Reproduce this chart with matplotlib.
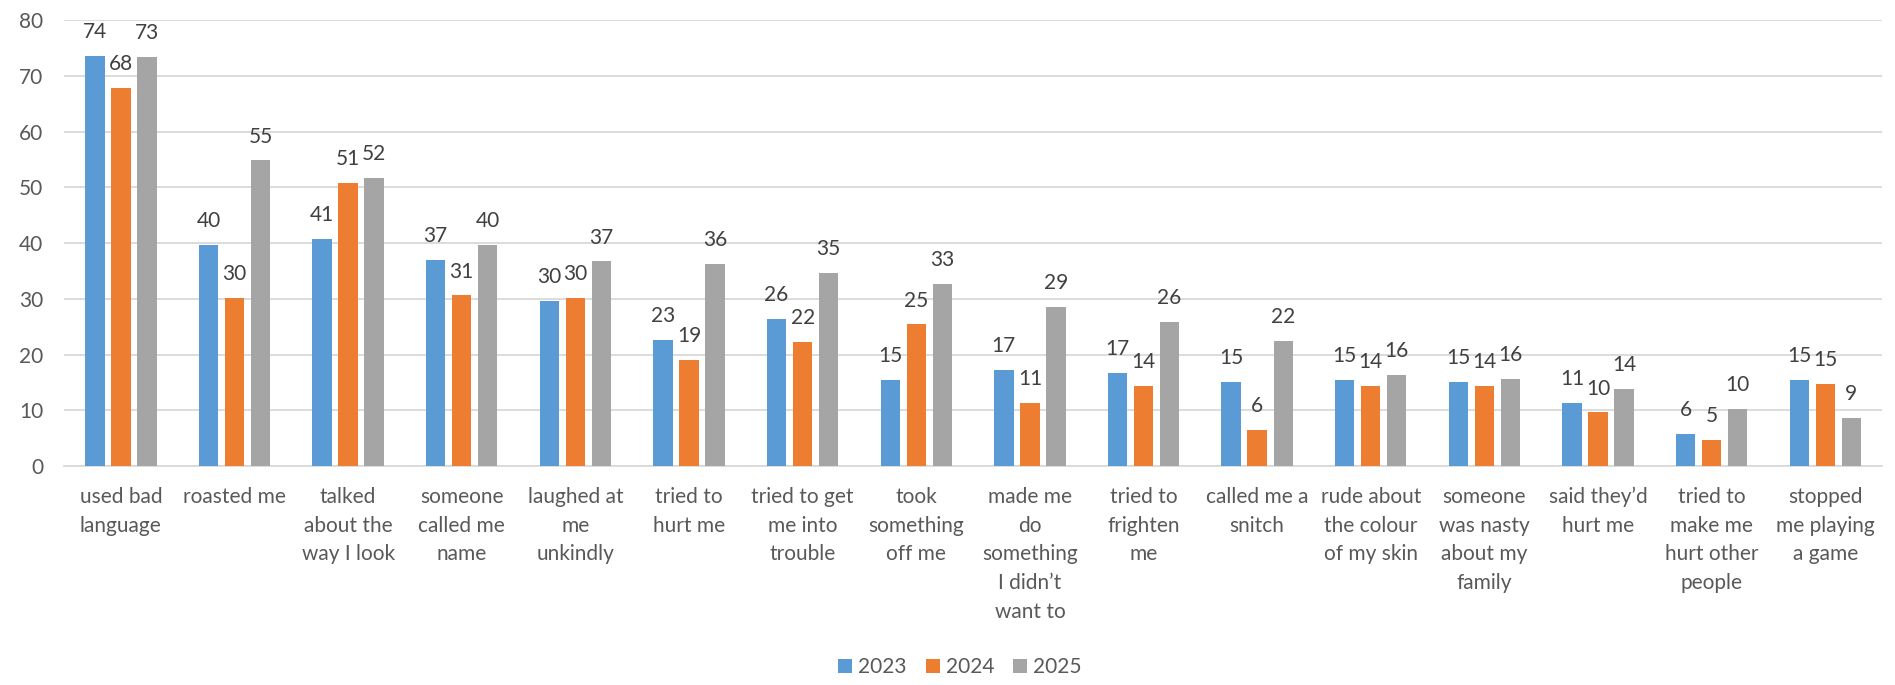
import numpy as np
import matplotlib
matplotlib.use("Agg")
import matplotlib.pyplot as plt

plt.rcParams.update({
    "font.family": ["Lato", "DejaVu Sans"],
    "font.size": 15,
})

categories = [
    "used bad\nlanguage",
    "roasted me",
    "talked\nabout the\nway I look",
    "someone\ncalled me\nname",
    "laughed at\nme\nunkindly",
    "tried to\nhurt me",
    "tried to get\nme into\ntrouble",
    "took\nsomething\noff me",
    "made me\ndo\nsomething\nI didn\u2019t\nwant to",
    "tried to\nfrighten\nme",
    "called me a\nsnitch",
    "rude about\nthe colour\nof my skin",
    "someone\nwas nasty\nabout my\nfamily",
    "said they\u2019d\nhurt me",
    "tried to\nmake me\nhurt other\npeople",
    "stopped\nme playing\na game",
]

years = ["2023", "2024", "2025"]
vals_2023 = [73.6, 39.6, 40.7, 37.0, 29.6, 22.6, 26.4, 15.4, 17.3, 16.7, 15.1, 15.4, 15.1, 11.3, 5.7, 15.4]
vals_2024 = [67.8, 30.2, 50.8, 30.6, 30.1, 19.1, 22.2, 25.4, 11.3, 14.3, 6.4, 14.3, 14.3, 9.6, 4.7, 14.7]
vals_2025 = [73.4, 54.8, 51.7, 39.7, 36.7, 36.3, 34.7, 32.7, 28.6, 25.9, 22.4, 16.3, 15.6, 13.8, 10.2, 8.6]
colors = ["#5B9BD5", "#ED7D31", "#A5A5A5"]

fig = plt.figure(figsize=(18.95, 6.85), dpi=100)
ax = fig.add_axes([0.0338, 0.3197, 0.9594, 0.6511])

x = np.arange(len(categories))
width = 0.17
step = 0.229

for i, (series, col, yr) in enumerate(zip([vals_2023, vals_2024, vals_2025], colors, years)):
    bars = ax.bar(x + (i - 1) * step, series, width, color=col, label=yr, zorder=3)
    for bar, v in zip(bars, series):
        ax.annotate(f"{v:.0f}",
                    xy=(bar.get_x() + bar.get_width() / 2, bar.get_height()),
                    xytext=(0, 10), textcoords="offset points",
                    ha="center", va="bottom", fontsize=15, color="#404040")

ax.set_xlim(-0.5, len(categories) - 0.5)
ax.set_ylim(0, 80)
ax.set_yticks(range(0, 81, 10))
ax.grid(axis="y", color="#D9D9D9", linewidth=1.3, zorder=0)
for s in ["top", "right", "left"]:
    ax.spines[s].set_visible(False)
ax.spines["bottom"].set_color("#D9D9D9")
ax.spines["bottom"].set_linewidth(1.3)
ax.tick_params(axis="both", length=0, colors="#595959", labelsize=15)
ax.tick_params(axis="y", pad=15)
ax.tick_params(axis="x", pad=15)
ax.set_xticks(x)
ax.set_xticklabels(categories, va="top", ha="center", linespacing=1.55)

fig.legend(loc="center", bbox_to_anchor=(0.5066, 0.026), ncol=3, frameon=False,
           fontsize=15, handlelength=0.67, handleheight=0.67, handletextpad=0.3,
           columnspacing=0.9, labelcolor="#595959")

fig.savefig("out.png", dpi=100)
